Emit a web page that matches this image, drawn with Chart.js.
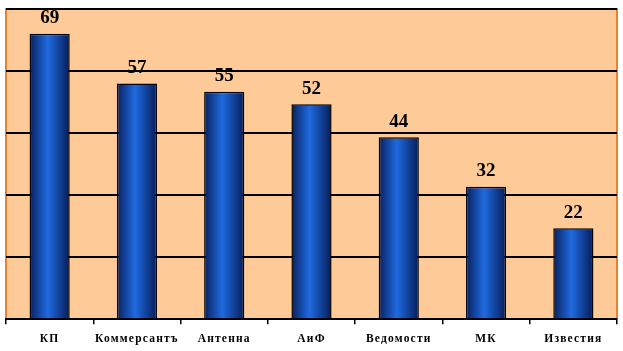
<!DOCTYPE html>
<html>
<head>
<meta charset="utf-8">
<script src="https://cdn.jsdelivr.net/npm/chart.js@4"></script>
<style>
  body { margin: 0; background: #ffffff; }
  #wrap { width: 623px; height: 351px; }
</style>
</head>
<body>
<div id="wrap"><canvas id="chart"></canvas></div>
<script>
const papers = ["КП", "Коммерсантъ", "Антенна", "АиФ", "Ведомости", "МК", "Известия"];
const readers = [69, 57, 55, 52, 44, 32, 22];
const barShare = 0.46;

// peach plot area with orange frame on top/left/right
const plotFrame = {
    id: "plotFrame",
    beforeDraw(chart) {
        const { ctx, chartArea: a } = chart;
        ctx.save();
        ctx.fillStyle = "#fecb98";
        ctx.fillRect(a.left, a.top, a.right - a.left, a.bottom - a.top);
        ctx.strokeStyle = "#e8822e";
        ctx.lineWidth = 2;
        ctx.beginPath();
        ctx.moveTo(a.left, a.bottom);
        ctx.lineTo(a.left, a.top);
        ctx.lineTo(a.right, a.top);
        ctx.lineTo(a.right, a.bottom);
        ctx.stroke();
        ctx.restore();
        ctx.letterSpacing = "1.2px";
    },
};

const valueLabels = {
    id: "valueLabels",
    afterDatasetsDraw(chart) {
        const { ctx } = chart;
        ctx.save();
        ctx.letterSpacing = "0px";
        ctx.font = "bold 19px 'Liberation Serif'";
        ctx.fillStyle = "#000";
        ctx.textAlign = "center";
        ctx.textBaseline = "bottom";
        chart.getDatasetMeta(0).data.forEach((bar, i) => {
            ctx.fillText(readers[i], bar.x, bar.y - 6);
        });
        ctx.restore();
    },
};

function barGradient(context) {
    const chart = context.chart;
    const a = chart.chartArea;
    if (!a) return "#1a56c0";
    const step = (a.right - a.left) / papers.length;
    const cx = chart.scales.x.getPixelForValue(context.dataIndex);
    const w = step * barShare;
    const g = chart.ctx.createLinearGradient(cx - w / 2, 0, cx + w / 2, 0);
    g.addColorStop(0, "#08205e");
    g.addColorStop(0.45, "#1f6ae0");
    g.addColorStop(1, "#061c58");
    return g;
}

new Chart(document.getElementById("chart"), {
    type: "bar",
    data: {
        labels: papers,
        datasets: [{
            data: readers,
            backgroundColor: barGradient,
            borderColor: "#000",
            borderWidth: 1.5,
            borderSkipped: "bottom",
            categoryPercentage: 1,
            barPercentage: barShare,
        }],
    },
    options: {
        responsive: true,
        maintainAspectRatio: false,
        animation: false,
        layout: { padding: { left: 6, right: 6, top: 9, bottom: -3 } },
        plugins: { legend: { display: false }, tooltip: { enabled: false } },
        scales: {
            x: {
                grid: { drawOnChartArea: false, color: "#000", lineWidth: 1.5, tickLength: 5 },
                border: { color: "#000", width: 2 },
                ticks: {
                    color: "#000",
                    font: { family: "'Liberation Serif'", weight: "bold", size: 11.5 },
                    padding: 8,
                    maxRotation: 0,
                    autoSkip: false,
                },
            },
            y: {
                min: 0,
                max: 75,
                ticks: { display: false, stepSize: 15 },
                grid: { color: "#000", lineWidth: 2, drawTicks: false },
                border: { display: false },
            },
        },
    },
    plugins: [plotFrame, valueLabels],
});
</script>
</body>
</html>
